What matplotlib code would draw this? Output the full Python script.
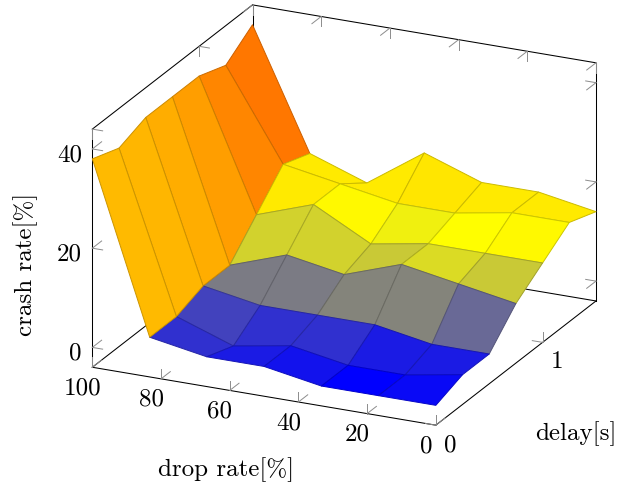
import matplotlib
matplotlib.use('Agg')
import matplotlib.pyplot as plt
import numpy as np
from matplotlib.colors import LinearSegmentedColormap
from mpl_toolkits.mplot3d import proj3d
from mpl_toolkits.mplot3d.art3d import Poly3DCollection

plt.rcParams['font.family'] = ['cmr10', 'DejaVu Serif']
plt.rcParams['axes.formatter.use_mathtext'] = True

# Crash rate [%], one list per delay, drop rate running from 0 to 100
drop_rates = [0, 16.7, 33.3, 50, 66.7, 83.3, 100]
delays = [0, 0.25, 0.5, 0.75, 1.0, 1.25, 1.5]
crash_delay_000 = [0, 0, 0, 2, 2, 4, 38]
crash_delay_025 = [2, 0, 0, 2, 0, 4, 36]
crash_delay_050 = [2, 2, 4, 4, 4, 6, 38]
crash_delay_075 = [8, 10, 12, 8, 10, 6, 38]
crash_delay_100 = [12, 12, 12, 10, 16, 12, 38]
crash_delay_125 = [16, 16, 14, 14, 16, 18, 36]
crash_delay_150 = [14, 16, 16, 20, 12, 16, 40]

drop_ticks = [100, 80, 60, 40, 20, 0]
delay_ticks = [0, 1]
crash_ticks = [0, 20, 40]

crash = np.array([crash_delay_000, crash_delay_025, crash_delay_050, crash_delay_075,
                  crash_delay_100, crash_delay_125, crash_delay_150])

W, H = 639, 484
fig = plt.figure(figsize=(W / 100, H / 100), dpi=100)

# Square axes, larger than the figure, so the projected box lands where it should
side = 700
ax = fig.add_axes([-15.3 / W, -90.5 / H, side / W, side / H], projection='3d',
                  computed_zorder=False)
ax.set_proj_type('ortho')
ax.view_init(elev=21.2, azim=-65)
ax.set_box_aspect((1, 1, 0.674), zoom=0.8234)
ax.set_axis_off()

drop_min, drop_max = 0, 100
delay_min, delay_max = 0, 1.5
crash_min, crash_max = -4, 44
ax.set_xlim(drop_max, drop_min)
ax.set_ylim(delay_min, delay_max)
ax.set_zlim(crash_min, crash_max)

# pgfplots "hot" colormap
hot = LinearSegmentedColormap.from_list('hot_pgf', ['blue', 'yellow', (1, 0.5, 0), 'red'])

polys = []
faces = []
edges = []
for j in range(len(delays) - 1):
    for i in range(len(drop_rates) - 1):
        polys.append([(drop_rates[i], delays[j], crash[j, i]),
                      (drop_rates[i + 1], delays[j], crash[j, i + 1]),
                      (drop_rates[i + 1], delays[j + 1], crash[j + 1, i + 1]),
                      (drop_rates[i], delays[j + 1], crash[j + 1, i])])
        mean = (crash[j, i] + crash[j, i + 1] + crash[j + 1, i + 1] + crash[j + 1, i]) / 4
        c = np.array(hot(mean / 40))
        faces.append(c)
        edges.append((c[0] * 0.8, c[1] * 0.8, c[2] * 0.8, 1))

surf = Poly3DCollection(polys, facecolors=faces, edgecolors=edges, linewidths=0.7, zorder=3)
ax.add_collection3d(surf)


def box_line(p, q):
    ax.plot([p[0], q[0]], [p[1], q[1]], [p[2], q[2]], color='black', lw=0.75,
            zorder=1, solid_capstyle='projecting')


def tick(p, d):
    ax.plot([p[0], p[0] + d[0]], [p[1], p[1] + d[1]], [p[2], p[2] + d[2]],
            color='#8c8c8c', lw=0.7, zorder=2)


def tick_label(p, text, dx, dy, ha='center'):
    # label sits at a pixel offset from the projected tick position
    x2, y2, _ = proj3d.proj_transform(p[0], p[1], p[2], ax.get_proj())
    ax.annotate(text, (x2, y2), xytext=(dx, dy), textcoords='offset pixels',
                ha=ha, va='center', fontsize=18, zorder=5, annotation_clip=False)


# Box: floor edges, back verticals, top back edges
box_line((drop_max, delay_min, crash_min), (drop_min, delay_min, crash_min))
box_line((drop_min, delay_min, crash_min), (drop_min, delay_max, crash_min))
box_line((drop_min, delay_max, crash_min), (drop_max, delay_max, crash_min))
box_line((drop_max, delay_max, crash_min), (drop_max, delay_min, crash_min))
box_line((drop_max, delay_min, crash_min), (drop_max, delay_min, crash_max))
box_line((drop_min, delay_max, crash_min), (drop_min, delay_max, crash_max))
box_line((drop_max, delay_max, crash_min), (drop_max, delay_max, crash_max))
box_line((drop_max, delay_min, crash_max), (drop_max, delay_max, crash_max))
box_line((drop_max, delay_max, crash_max), (drop_min, delay_max, crash_max))

dd = 3.0    # tick length along drop
dl = 0.087  # along delay
dz = 2.0    # along crash

for v in drop_ticks:
    tick((v, delay_min, crash_min), (0, 0, dz))
    tick((v, delay_min, crash_min), (0, dl, 0))
    tick((v, delay_max, crash_max), (0, 0, -dz))
    tick((v, delay_max, crash_max), (0, -dl, 0))
    tick_label((v, delay_min, crash_min), str(v), -10, -21)

for v in delay_ticks:
    tick((drop_min, v, crash_min), (0, 0, dz))
    tick((drop_min, v, crash_min), (dd, 0, 0))
    tick((drop_max, v, crash_max), (0, 0, -dz))
    tick((drop_max, v, crash_max), (-dd, 0, 0))
    tick_label((drop_min, v, crash_min), str(v), 14.5, -20)

for v in crash_ticks:
    tick((drop_max, delay_min, v), (0, dl, 0))
    tick((drop_max, delay_min, v), (-dd, 0, 0))
    tick((drop_min, delay_max, v), (0, -dl, 0))
    tick((drop_min, delay_max, v), (dd, 0, 0))
    tick_label((drop_max, delay_min, v), str(v), -10.5, -6.5, ha='right')

fig.text(226 / W, 1 - 470 / H, 'drop rate[%]', ha='center', va='center', fontsize=18)
fig.text(576 / W, 1 - 434 / H, 'delay[s]', ha='center', va='center', fontsize=18)
fig.text(26 / W, 1 - 264 / H, 'crash rate[%]', ha='center', va='center', rotation=90,
         fontsize=18)

fig.savefig('out.png', dpi=100)
